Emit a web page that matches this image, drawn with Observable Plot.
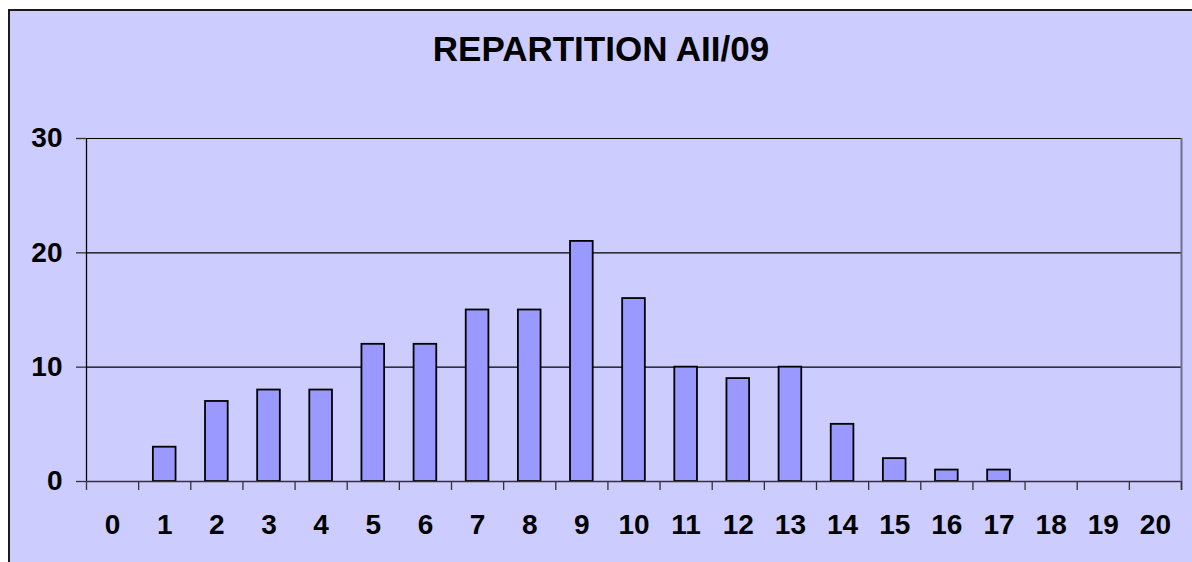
<!DOCTYPE html>
<html>
<head>
<meta charset="utf-8">
<script src="https://cdn.jsdelivr.net/npm/d3@7"></script>
<script src="https://cdn.jsdelivr.net/npm/@observablehq/plot@0.6"></script>
<style>
  html, body { margin: 0; padding: 0; background: #ffffff; }
  #root { position: relative; width: 1192px; height: 562px; overflow: hidden; font-family: "Liberation Sans", Arial, sans-serif; }
  #panel { position: absolute; left: 8px; top: 9px; width: 1220px; height: 620px; background: #CCCCFF; border-left: 2px solid #1a1a1a; border-top: 2px solid #1a1a1a; }
  #chart { position: absolute; left: 0; top: 0; width: 1192px; }
  #title { box-sizing: border-box; height: 80px; padding-top: 31px; line-height: 1; text-align: center; font-size: 35px; font-weight: bold; color: #000; padding-left: 10px; }
  #chart svg text { font-size: 28px; font-weight: bold; }
</style>
</head>
<body>
<div id="root">
  <div id="panel"></div>
  <div id="chart"><div id="title">REPARTITION AII/09</div></div>
</div>
<script>
// Data
const categories = [0, 1, 2, 3, 4, 5, 6, 7, 8, 9, 10, 11, 12, 13, 14, 15, 16, 17, 18, 19, 20];
const counts     = [0, 3, 7, 8, 8, 12, 12, 15, 15, 21, 16, 10, 9, 10, 5, 2, 1, 1, 0, 0, 0];
const yTicks = [0, 10, 20, 30];

const gapWidth = 1.3;                 // Excel-style gap width (130%)
const halfBar = 1 / (2 * (1 + gapWidth));

const data = categories.map((c, i) => ({c, v: counts[i]}));
const bars = data.filter(d => d.v > 0);
const boundaries = categories.map(c => c - 0.5).concat([categories[categories.length - 1] + 0.5]);
const xDomain = [boundaries[0], boundaries[boundaries.length - 1]];

const labelFont = {fontSize: 28, fontWeight: "bold", fontFamily: "'Liberation Sans', Arial, sans-serif", fill: "#000"};

const chart = Plot.plot({
  width: 1192,
  height: 482,
  marginLeft: 86,
  marginRight: 11,
  marginTop: 58,
  marginBottom: 81,
  style: {background: "transparent", fontFamily: "'Liberation Sans', Arial, sans-serif", fontSize: "28px", fontWeight: "bold", color: "#000", overflow: "visible"},
  x: {type: "linear", domain: xDomain},
  y: {domain: [0, 30]},
  marks: [
    Plot.ruleY(yTicks.filter(t => t > 0), {stroke: "#000", strokeWidth: 1.2}),
    Plot.rectY(bars, {x1: d => d.c - halfBar, x2: d => d.c + halfBar, y1: 0, y2: "v", fill: "#9999FF", stroke: "#000", strokeWidth: 1.8}),
    Plot.ruleY([0], {stroke: "#333", strokeWidth: 1.5}),
    Plot.ruleX([xDomain[0]], {stroke: "#000", strokeWidth: 1.3}),
    Plot.ruleX([xDomain[1]], {stroke: "#6f6f8a", strokeWidth: 2, insetBottom: -9}),
    Plot.axisX({ticks: boundaries, tickSize: 9, stroke: "#333", strokeWidth: 1.3, tickFormat: () => ""}),
    Plot.axisX({ticks: categories, tickSize: 0, tickPadding: 33, tickFormat: d => String(d), label: null, ...labelFont}),
    Plot.axisY({ticks: yTicks, tickSize: 10, tickPadding: 14, stroke: "#333", strokeWidth: 1.3, label: null, ...labelFont})
  ]
});
document.getElementById("chart").appendChild(chart);
</script>
</body>
</html>
